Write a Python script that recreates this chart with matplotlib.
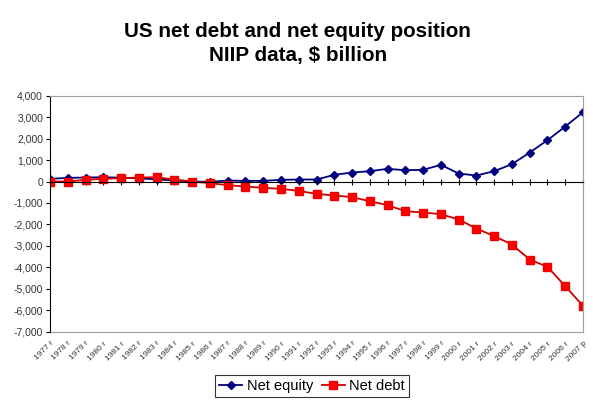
import numpy as np
import matplotlib.pyplot as plt

plt.rcParams['font.family'] = ['Liberation Sans', 'DejaVu Sans']

years = ['1977 r', '1978 r', '1979 r', '1980 r', '1981 r', '1982 r', '1983 r', '1984 r',
         '1985 r', '1986 r', '1987 r', '1988 r', '1989 r', '1990 r', '1991 r', '1992 r',
         '1993 r', '1994 r', '1995 r', '1996 r', '1997 r', '1998 r', '1999 r', '2000 r',
         '2001 r', '2002 r', '2003 r', '2004 r', '2005 r', '2006 r', '2007 p']

net_equity = [125, 170, 185, 200, 180, 150, 100, 50,
              0, -10, 45, 30, 30, 78, 93, 93,
              311, 419, 482, 590, 528, 544, 777, 373,
              280, 482, 808, 1351, 1926, 2563, 3231]

net_debt = [0, 0, 78, 124, 155, 186, 200, 93,
            0, -78, -171, -233, -295, -342, -440, -575,
            -652, -730, -916, -1103, -1382, -1445, -1522, -1771,
            -2190, -2547, -2936, -3635, -3977, -4877, -5794]

x = np.arange(len(years))

fig = plt.figure(figsize=(5.93, 4.05), dpi=100)
ax = fig.add_axes([50/593, 1 - 331.7/405, 533/593, 236/405])

ax.plot(x, net_equity, color='#000080', marker='D', markersize=4.5, lw=1.3, label='Net equity')
ax.plot(x, net_debt, color='#cc0000', marker='s', markersize=5.5, lw=1.3,
        markerfacecolor='#ff0000', markeredgecolor='#ee0000', label='Net debt')

ax.set_xlim(0, len(years) - 1)
ax.set_ylim(-7000, 4000)
ax.set_yticks(np.arange(-7000, 4001, 1000))
ax.set_yticklabels([f'{v:,}' for v in range(-7000, 4001, 1000)], fontsize=7.5, color='#333333')
ax.tick_params(axis='y', length=3, color='black', pad=2)

# category axis crosses at zero, labels stay at the bottom
ax.spines['bottom'].set_position(('data', 0))
ax.spines['bottom'].set_color('black')
ax.set_xticks(x)
ax.tick_params(axis='x', direction='inout', length=5, labelbottom=False)
for s in ['top', 'right']:
    ax.spines[s].set_color('#a0a0a0')

sec = ax.secondary_xaxis('bottom')
sec.set_xticks(x)
sec.set_xticklabels(years, rotation=45, ha='right', rotation_mode='anchor', fontsize=6,
                    color='#333333')
sec.tick_params(length=0, pad=6)
sec.spines['bottom'].set_color('#a0a0a0')

fig.text(0.502, 0.893, 'US net debt and net equity position\nNIIP data, $ billion',
         ha='center', va='center', fontsize=14.9, fontweight='bold', linespacing=1.3)

leg = fig.legend(loc='center', bbox_to_anchor=(312/593, 1 - 386/405), ncol=2,
                 fontsize=10.5, frameon=True, fancybox=False, edgecolor='black',
                 handlelength=1.6, handletextpad=0.3, columnspacing=0.6,
                 borderpad=0.25, borderaxespad=0)
leg.get_frame().set_linewidth(0.8)

fig.savefig('out.png', dpi=100)
